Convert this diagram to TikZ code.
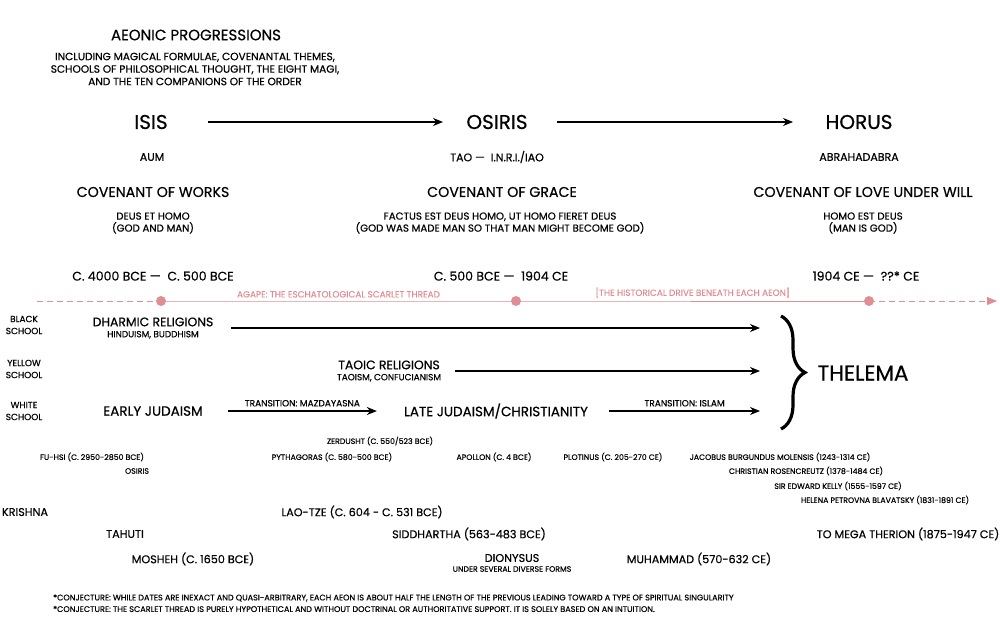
\documentclass[tikz,border=0pt]{standalone}
\usepackage{fontspec}
\setmainfont[FakeBold=0.5]{Poppins}
\usepackage{xcolor}
\usepackage{tikz}
\usetikzlibrary{arrows.meta,decorations.pathreplacing}
\definecolor{scarlet}{RGB}{224,142,148}
\newcommand{\fsz}[2]{\fontsize{#1}{#2}\selectfont}

\begin{document}
\begin{tikzpicture}[x=1pt,y=-1pt,
    every node/.style={inner sep=0pt,align=center},
    aeon/.style={font=\fsz{20}{24}},
    formula/.style={font=\fsz{11}{13}},
    covenant/.style={font=\fsz{14.2}{16}},
    motto/.style={font=\fsz{10.2}{12}},
    era/.style={font=\fsz{12.5}{15}},
    threadlabel/.style={font=\fsz{8.9}{10},text=scarlet},
    school/.style={font=\fsz{9}{12}},
    religion/.style={font=\fsz{12.4}{11}},
    transit/.style={font=\fsz{9}{10}},
    magus/.style={font=\fsz{7.8}{9}},
    companion/.style={font=\fsz{11.2}{13}},
    note/.style={font=\fsz{8.1}{9},anchor=west},
    dot/.style={circle,fill=scarlet,minimum size=10pt},
    arr/.style={-{Stealth[length=10pt,width=8pt]},line width=1.1pt}]
    \useasboundingbox (0,0) rectangle (1000,616);

    % Title
    \node[font=\fsz{15}{18}] (title) at (196,35) {AEONIC PROGRESSIONS};
    \node[font=\fsz{10.6}{12.5}] (subtitle) at (195,69) {INCLUDING MAGICAL FORMULAE, COVENANTAL THEMES,\\SCHOOLS OF PHILOSOPHICAL THOUGHT, THE EIGHT MAGI,\\AND THE TEN COMPANIONS OF THE ORDER};

    % Aeons
    \node[aeon] (isis) at (151,122) {ISIS};
    \node[aeon] (osiris) at (497,122) {OSIRIS};
    \node[aeon] (horus) at (859,122) {HORUS};
    \coordinate (a1) at (208,122);
    \coordinate (a2) at (443,122);
    \coordinate (a3) at (557,122);
    \coordinate (a4) at (793,122);
    \draw[arr] (a1) -- (a2);
    \draw[arr] (a3) -- (a4);

    \node[formula] (aum) at (152,157) {AUM};
    \node[formula] (tao) at (497,157) {TAO ---\ \ I.N.R.I./IAO};
    \node[formula] (abra) at (859,157) {ABRAHADABRA};

    \node[covenant] (works) at (153,192) {COVENANT OF WORKS};
    \node[covenant] (grace) at (502,192) {COVENANT OF GRACE};
    \node[covenant] (love) at (863,192) {COVENANT OF LOVE UNDER WILL};

    \node[motto] (deusethomo) at (153,223) {DEUS ET HOMO\\(GOD AND MAN)};
    \node[motto] (factus) at (500,223) {FACTUS EST DEUS HOMO, UT HOMO FIERET DEUS\\(GOD WAS MADE MAN SO THAT MAN MIGHT BECOME GOD)};
    \node[motto] (homoest) at (863,223) {HOMO EST DEUS\\(MAN IS GOD)};

    \node[era] (era1) at (153,276) {C. 4000 BCE ---\ \ C. 500 BCE};
    \node[era] (era2) at (501,276) {C. 500 BCE ---\ \ 1904 CE};
    \node[era] (era3) at (866,276) {1904 CE ---\ \ ??* CE};

    % Scarlet thread
    \coordinate (threadstart) at (37,301);
    \coordinate (threadend) at (997,301);
    \node[dot] (d1) at (161,301) {};
    \node[dot] (d2) at (516,301) {};
    \node[dot] (d3) at (869,301) {};
    \draw[scarlet,line width=1pt,dash pattern=on 6pt off 4pt] (threadstart) -- (d1.center);
    \draw[scarlet,line width=1pt] (d1.center) -- node[threadlabel,above=3pt] (agape) {AGAPE: THE ESCHATOLOGICAL SCARLET THREAD} (d2.center)
        -- node[threadlabel,above=3pt] (drive) {[THE HISTORICAL DRIVE BENEATH EACH AEON]} (d3.center);
    \draw[scarlet,line width=1pt,dash pattern=on 6pt off 4pt,-{Triangle[length=10pt,width=8pt]}] (d3.center) -- (threadend);

    % Schools
    \node[school] (black) at (24,325) {BLACK\\SCHOOL};
    \node[school] (yellow) at (24,369) {YELLOW\\SCHOOL};
    \node[school] (white) at (24,411) {WHITE\\SCHOOL};

    \node[religion] (dharmic) at (153,328) {DHARMIC RELIGIONS\\{\fsz{8.9}{10}HINDUISM, BUDDHISM}};
    \node[religion] (taoic) at (389,371) {TAOIC RELIGIONS\\{\fsz{8.9}{10}TAOISM, CONFUCIANISM}};
    \node[font=\fsz{13.5}{15}] (early) at (153,411) {EARLY JUDAISM};
    \node[font=\fsz{13.5}{15}] (late) at (496,411) {LATE JUDAISM/CHRISTIANITY};

    \coordinate (join) at (760,371);
    \draw[arr] ([xshift=17pt]dharmic.east) -- (dharmic.east -| join);
    \draw[arr] ([xshift=14pt]taoic.east) -- (taoic.east -| join);
    \draw[arr] ([xshift=25pt]early.east) -- node[transit,above=4pt] (mazda) {TRANSITION: MAZDAYASNA} ([xshift=-27pt]late.west);
    \draw[arr] ([xshift=21pt]late.east) -- node[transit,above=4pt] (islam) {TRANSITION: ISLAM} (late.east -| join);

    \draw[decorate,decoration={brace,amplitude=24pt},line width=3.2pt] (781,316) -- (781,429);
    \node[font=\fsz{21.5}{24}] (thelema) at (863,373) {THELEMA};

    % Magi
    \node[magus] (zerdusht) at (380,441) {ZERDUSHT (C. 550/523 BCE)};
    \node[magus] (fuhsi) at (92,457) {FU-HSI (C. 2950-2850 BCE)};
    \node[magus] (pythagoras) at (332,457) {PYTHAGORAS (C. 580-500 BCE)};
    \node[magus] (apollon) at (494,457) {APOLLON (C. 4 BCE)};
    \node[magus] (plotinus) at (613,457) {PLOTINUS (C. 205-270 CE)};
    \node[magus] (jacobus) at (780,457) {JACOBUS BURGUNDUS MOLENSIS (1243-1314 CE)};
    \node[magus] (osirismagus) at (137,471) {OSIRIS};
    \node[magus] (rosencreutz) at (806,471) {CHRISTIAN ROSENCREUTZ (1378-1484 CE)};
    \node[magus] (kelly) at (838,486) {SIR EDWARD KELLY (1555-1597 CE)};
    \node[magus] (blavatsky) at (885,500) {HELENA PETROVNA BLAVATSKY (1831-1891 CE)};

    % Companions
    \node[companion] (krishna) at (25,512) {KRISHNA};
    \node[companion] (laotze) at (362,512) {LAO-TZE (C. 604 - C. 531 BCE)};
    \node[companion] (tahuti) at (125,534) {TAHUTI};
    \node[companion] (siddhartha) at (469,534) {SIDDHARTHA (563-483 BCE)};
    \node[companion] (therion) at (908,534) {TO MEGA THERION (1875-1947 CE)};
    \node[companion] (mosheh) at (193,559) {MOSHEH (C. 1650 BCE)};
    \node[companion] (dionysus) at (512,558) {DIONYSUS};
    \node[magus] (diverse) at (512,569) {UNDER SEVERAL DIVERSE FORMS};
    \node[companion] (muhammad) at (699,559) {MUHAMMAD (570-632 CE)};

    % Footnotes
    \node[note] (note1) at (53,598) {*CONJECTURE: WHILE DATES ARE INEXACT AND QUASI-ARBITRARY, EACH AEON IS ABOUT HALF THE LENGTH OF THE PREVIOUS LEADING TOWARD A TYPE OF SPIRITUAL SINGULARITY};
    \node[note] (note2) at (53,609) {*CONJECTURE: THE SCARLET THREAD IS PURELY HYPOTHETICAL AND WITHOUT DOCTRINAL OR AUTHORITATIVE SUPPORT. IT IS SOLELY BASED ON AN INTUITION.};
\end{tikzpicture}
\end{document}
